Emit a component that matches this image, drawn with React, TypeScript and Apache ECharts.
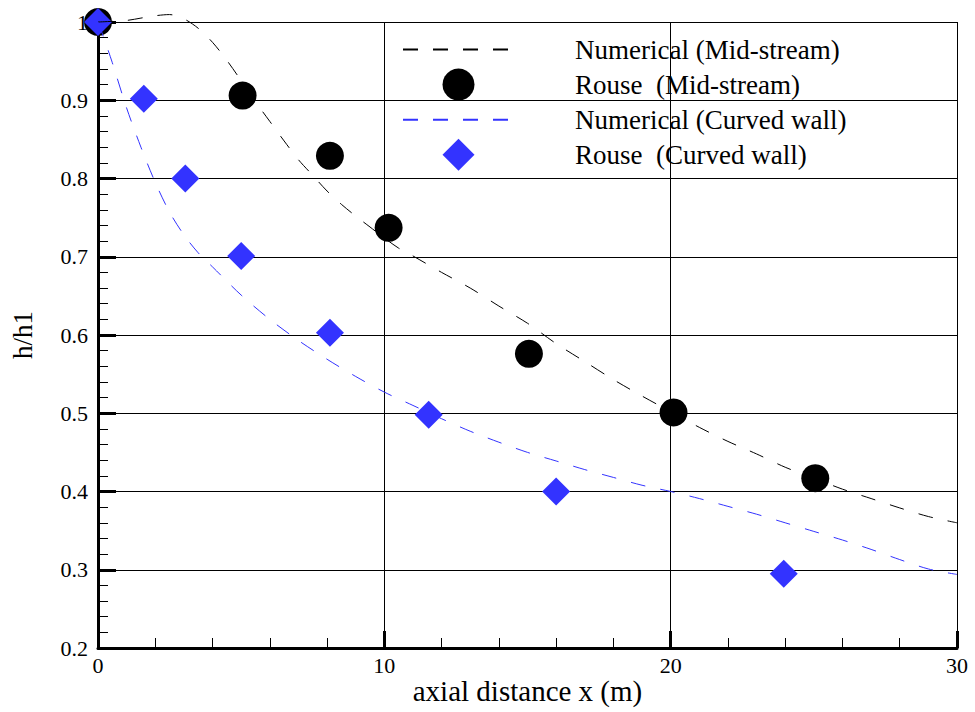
import React, { useEffect, useRef } from "react";
import * as echarts from "echarts";

const midLineX = [0, 1, 1.5, 2, 2.5, 3, 3.5, 4, 4.5, 5, 5.5, 6, 6.5, 7, 7.5, 8, 8.5, 9, 9.5, 10, 10.5, 11, 12, 13, 14, 15, 16, 17, 18, 19, 20, 21, 22, 23, 24, 25, 26, 27, 28, 29, 30];
const midLineY = [1.0, 1.002, 1.005, 1.008, 1.0095, 1.004, 0.992, 0.974, 0.951, 0.925, 0.898, 0.873, 0.848, 0.824, 0.804, 0.784, 0.767, 0.752, 0.738, 0.724, 0.711, 0.701, 0.68, 0.66, 0.637, 0.615, 0.589, 0.566, 0.543, 0.522, 0.502, 0.482, 0.464, 0.448, 0.431, 0.417, 0.403, 0.391, 0.379, 0.368, 0.36];

const wallLineX = [0, 0.2, 0.5, 1, 1.5, 2, 2.5, 3, 3.5, 4, 5, 6, 7, 8, 9, 10, 11, 12, 13, 14, 15, 16, 17, 18, 19, 20, 21, 22, 23, 24, 25, 26, 27, 28, 29, 30];
const wallLineY = [1.0, 0.98, 0.948, 0.89, 0.84, 0.795, 0.757, 0.728, 0.705, 0.687, 0.651, 0.62, 0.593, 0.569, 0.547, 0.527, 0.51, 0.493, 0.477, 0.463, 0.45, 0.439, 0.428, 0.418, 0.408, 0.4, 0.391, 0.381, 0.371, 0.36, 0.349, 0.338, 0.326, 0.313, 0.301, 0.294];

const midPtsX = [0, 5.05, 8.1, 10.15, 15.05, 20.1, 25.05];
const midPtsY = [1.0, 0.906, 0.829, 0.737, 0.576, 0.501, 0.417];

const wallPtsX = [0, 1.6, 3.05, 5.0, 8.1, 11.55, 16.0, 23.95];
const wallPtsY = [1.0, 0.902, 0.8, 0.701, 0.603, 0.498, 0.4, 0.295];

const seriesNames = [
  "Numerical (Mid-stream)",
  "Rouse  (Mid-stream)",
  "Numerical (Curved wall)",
  "Rouse  (Curved wall)",
];

const xTicks = { min: 0, max: 30, interval: 10 };
const yTicks = { min: 0.2, max: 1, interval: 0.1 };

const pairs = (xs: number[], ys: number[]) => xs.map((x, i) => [x, ys[i]]);

const FONT = "Liberation Serif";
const BLUE = "#3333ff";

export default function App() {
  const ref = useRef<HTMLDivElement>(null);
  useEffect(() => {
    if (!ref.current) return;
    const chart = echarts.init(ref.current, null, { renderer: "svg" });
    const axisCommon = {
      type: "value" as const,
      axisLine: { show: true, onZero: false, lineStyle: { color: "#000", width: 3 } },
      axisTick: { show: true, inside: true, length: 18, lineStyle: { color: "#000", width: 3 } },
      minorTick: { show: true, splitNumber: 5, length: 10, lineStyle: { color: "#000", width: 1 } },
      splitLine: { show: true, lineStyle: { color: "#000", width: 1 } },
      minorSplitLine: { show: false },
      axisLabel: { color: "#000", fontFamily: FONT, fontSize: 22 },
      nameLocation: "middle" as const,
      nameMoveOverlap: false,
    };
    chart.setOption({
      animation: false,
      backgroundColor: "#fff",
      grid: { left: 98, right: 18, top: 22, bottom: 64, containLabel: false, outerBoundsMode: "none" },
      legend: {
        orient: "vertical",
        left: 397,
        top: 31,
        itemWidth: 111,
        itemHeight: 32,
        itemGap: 5.6,
        symbolKeepAspect: true,
        selectedMode: false,
        textStyle: { color: "#000", fontFamily: FONT, fontSize: 27, padding: [0, 0, 0, 56] },
        data: [
          { name: seriesNames[0], itemStyle: { opacity: 0 } },
          { name: seriesNames[1] },
          { name: seriesNames[2], itemStyle: { opacity: 0 } },
          { name: seriesNames[3], icon: "path://M0,-1L1,0L0,1L-1,0Z" },
        ],
      },
      xAxis: {
        ...axisCommon,
        min: xTicks.min,
        max: xTicks.max,
        interval: xTicks.interval,
        name: "axial distance x (m)",
        nameGap: 28,
        nameTextStyle: { color: "#000", fontFamily: FONT, fontSize: 29 },
        axisTick: { ...axisCommon.axisTick, length: 17 },
        axisLabel: { ...axisCommon.axisLabel, margin: 6 },
      },
      yAxis: {
        ...axisCommon,
        min: yTicks.min,
        max: yTicks.max,
        interval: yTicks.interval,
        name: "h/h1",
        nameGap: 62,
        nameRotate: 90,
        nameTextStyle: { color: "#000", fontFamily: FONT, fontSize: 27 },
        axisLabel: {
          ...axisCommon.axisLabel,
          margin: 10,
          formatter: (v: number) => String(+v.toFixed(1)),
        },
      },
      series: [
        {
          name: seriesNames[0],
          type: "line",
          data: pairs(midLineX, midLineY),
          showSymbol: false,
          symbol: "none",
          smooth: 0.3,
          clip: false,
          lineStyle: { color: "#000", width: 1, type: [15, 15] },
          itemStyle: { color: "#000" },
          z: 3,
        },
        {
          name: seriesNames[1],
          type: "scatter",
          data: pairs(midPtsX, midPtsY),
          symbol: "circle",
          symbolSize: 28,
          clip: false,
          itemStyle: { color: "#000", opacity: 1 },
          z: 2,
        },
        {
          name: seriesNames[2],
          type: "line",
          data: pairs(wallLineX, wallLineY),
          showSymbol: false,
          symbol: "none",
          smooth: 0.3,
          clip: false,
          lineStyle: { color: BLUE, width: 1, type: [15, 15] },
          itemStyle: { color: BLUE },
          z: 3,
        },
        {
          name: seriesNames[3],
          type: "scatter",
          data: pairs(wallPtsX, wallPtsY),
          symbol: "diamond",
          symbolSize: 28,
          symbolKeepAspect: true,
          clip: false,
          itemStyle: { color: BLUE, opacity: 1 },
          z: 2,
        },
      ],
    });
    return () => chart.dispose();
  }, []);
  return (
    <div
      ref={ref}
      style={{ position: "absolute", left: 0, top: 0, width: 975, height: 712 }}
    />
  );
}
